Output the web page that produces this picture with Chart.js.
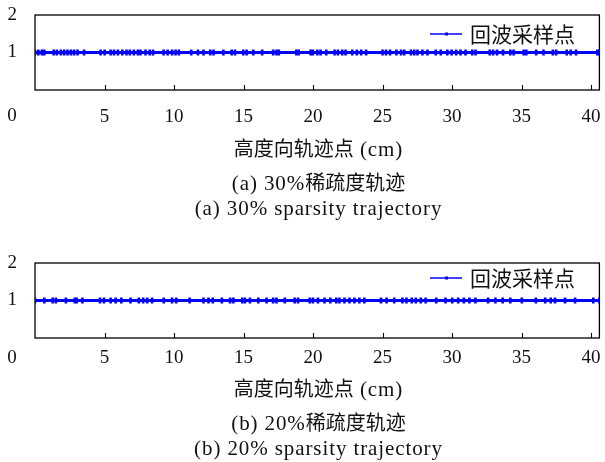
<!DOCTYPE html>
<html>
<head>
<meta charset="utf-8">
<script src="https://cdn.jsdelivr.net/npm/chart.js@4.4.1/dist/chart.umd.min.js"></script>
<style>
  html, body { margin: 0; padding: 0; background: #fff; }
  body { width: 605px; height: 462px; position: relative; overflow: hidden;
         font-family: "Liberation Serif", "Noto Sans CJK SC", serif; color: #111; }
  .panel { position: absolute; left: 0; width: 605px; height: 231px; }
  .txt { position: absolute; left: 35px; width: 567px; text-align: center;
         font-size: 21px; line-height: 24px; white-space: nowrap; letter-spacing: 0.9px; }
  .cjk { font-family: "Noto Sans CJK SC", sans-serif; font-size: 20px; letter-spacing: 0; }
</style>
</head>
<body>
<div class="panel" style="top:0"><canvas id="chartA"></canvas></div>
<div class="panel" style="top:231px"><canvas id="chartB"></canvas></div>

<div class="txt" style="top:136px"><span class="cjk">高度向轨迹点</span> (cm)</div>
<div class="txt" style="top:170px">(a) 30%<span class="cjk">稀疏度轨迹</span></div>
<div class="txt" style="top:196px">(a) 30% sparsity trajectory</div>

<div class="txt" style="top:376px"><span class="cjk">高度向轨迹点</span> (cm)</div>
<div class="txt" style="top:410px">(b) 20%<span class="cjk">稀疏度轨迹</span></div>
<div class="txt" style="top:436px">(b) 20% sparsity trajectory</div>

<script>
// Height-direction positions (cm) of the retained echo samples
const samples30 = [0, 0.24, 0.5, 0.67, 1.34, 1.57, 1.86, 2.1, 2.34, 2.58, 2.81, 3.06, 3.53,
  4.72, 5.01, 5.44, 5.68, 5.96, 6.28, 6.58, 6.82, 7.11, 7.4, 7.59, 7.95, 8.25, 8.49,
  9.25, 9.54, 9.86, 10.11, 10.35, 11.24, 11.72, 12.12, 12.6, 12.84, 13.55, 14.15, 14.39,
  14.98, 15.22, 15.7, 16.34, 17.13, 17.37, 17.54, 18.8, 18.97, 19.83, 19.99, 20.31, 20.54,
  20.95, 21.55, 21.79, 22.1, 22.34, 22.82, 23.15, 23.46, 23.82, 25.0, 25.25, 25.54, 26.0,
  26.33, 26.56, 27.04, 27.28, 27.51, 27.87, 28.23, 28.83, 29.19, 29.66, 29.97, 30.3, 30.61,
  30.97, 31.45, 31.69, 32.71, 32.95, 33.24, 33.67, 34.19, 34.43, 35.15, 35.34, 36.05, 36.58,
  37.25, 37.49, 38.25, 38.54, 38.92, 40.45, 40.6];

const samples20 = [0, 0.67, 1.27, 1.5, 2.22, 2.86, 3.0, 3.41, 4.67, 4.96, 5.44, 5.8, 6.21,
  6.87, 7.47, 7.78, 8.07, 8.42, 9.26, 9.86, 10.16, 11.12, 12.12, 12.48, 12.79, 13.44,
  14.03, 14.27, 14.91, 15.1, 15.46, 16.06, 16.66, 17.13, 17.37, 17.97, 18.68, 18.92,
  19.76, 19.99, 20.35, 20.83, 21.24, 21.67, 21.9, 22.26, 22.62, 22.98, 23.33, 23.69,
  24.89, 25.29, 25.84, 26.43, 26.72, 27.1, 27.39, 27.75, 28.1, 28.86, 29.53, 30.01,
  30.44, 30.85, 31.25, 31.68, 32.59, 33.12, 33.64, 34.19, 35.02, 36.03, 36.7, 37.1,
  37.41, 38.13, 38.85, 40.16, 40.6];

const echoLevel = 1;              // every sample sits on the unit level
const xTickValues = [5, 10, 15, 20, 25, 30, 35, 40];
const yTickValues = [1, 2];
const xRange = [0, 40.6];
const yRange = [0, 2];
const seriesLabel = '回波采样点';

const BLUE = '#0000ff';
const LATIN = '"Liberation Serif", "Noto Sans CJK SC", serif';
const CJK = '"Noto Sans CJK SC", "Liberation Serif", sans-serif';

// Frame, inward ticks, the "0" label below the frame and an in-plot legend
const framePlugin = {
  id: 'frame',
  beforeDatasetsDraw(chart) {
    const { ctx, chartArea: a, scales: { x } } = chart;
    ctx.save();
    ctx.strokeStyle = '#000';
    ctx.lineWidth = 1.3;
    ctx.strokeRect(a.left, a.top, a.right - a.left, a.bottom - a.top);
    ctx.lineWidth = 1.1;
    ctx.beginPath();
    xTickValues.forEach(v => {
      const px = Math.round(x.getPixelForValue(v)) + 0.5;
      ctx.moveTo(px, a.bottom);
      ctx.lineTo(px, a.bottom - 5);
    });
    ctx.stroke();
    ctx.restore();
  },
  afterDraw(chart, args, opts) {
    const { ctx, chartArea: a } = chart;
    ctx.save();
    ctx.fillStyle = '#111';
    ctx.font = '19px ' + LATIN;
    ctx.textAlign = 'center';
    ctx.textBaseline = 'middle';
    ctx.fillText('0', 12, a.bottom + opts.zeroOffset);
    // legend
    const ly = a.top + opts.legendOffset;
    const lx = 430;
    ctx.strokeStyle = BLUE;
    ctx.lineWidth = 1.5;
    ctx.beginPath();
    ctx.moveTo(lx, ly);
    ctx.lineTo(lx + 32, ly);
    ctx.stroke();
    ctx.fillStyle = BLUE;
    ctx.fillRect(lx + 15, ly - 1.5, 3, 3);
    ctx.fillStyle = '#111';
    ctx.font = '21px ' + CJK;
    ctx.textAlign = 'left';
    ctx.fillText(chart.data.datasets[0].label, lx + 40, ly);
    ctx.restore();
  }
};

function makeChart(id, xs, pad, opts) {
  return new Chart(document.getElementById(id), {
    type: 'scatter',
    data: {
      datasets: [{
        label: seriesLabel,
        data: xs.map(v => ({ x: v, y: echoLevel })),
        showLine: true,
        borderColor: BLUE,
        borderWidth: 3.2,
        pointStyle: 'line',
        rotation: 90,
        pointRadius: 3,
        pointBorderWidth: 2.6,
        pointBorderColor: BLUE,
        pointBackgroundColor: BLUE,
        pointHoverRadius: 3
      }]
    },
    options: {
      responsive: true,
      maintainAspectRatio: false,
      animation: false,
      events: [],
      layout: { padding: { left: 0, right: 3, top: pad.top, bottom: pad.bottom } },
      plugins: {
        legend: { display: false },
        tooltip: { enabled: false },
        frame: opts
      },
      scales: {
        x: {
          type: 'linear',
          min: xRange[0], max: xRange[1],
          afterBuildTicks: s => { s.ticks = xTickValues.map(v => ({ value: v })); },
          afterFit: s => { s.height = 40; s.paddingLeft = 0; s.paddingRight = 0; },
          grid: { display: false, drawTicks: false },
          border: { display: false },
          ticks: { color: '#111', font: { family: LATIN, size: 19 }, padding: pad.xPad, maxRotation: 0 }
        },
        y: {
          min: yRange[0], max: yRange[1],
          afterBuildTicks: s => { s.ticks = yTickValues.map(v => ({ value: v })); },
          afterFit: s => { s.width = 35; s.paddingTop = 0; s.paddingBottom = 0; },
          grid: { display: false, drawTicks: false },
          border: { display: false },
          ticks: { color: '#111', font: { family: LATIN, size: 19 }, padding: 18 }
        }
      }
    },
    plugins: [framePlugin]
  });
}

makeChart('chartA', samples30, { top: 15, bottom: 101, xPad: 16 }, { zeroOffset: 26, legendOffset: 19 });
makeChart('chartB', samples20, { top: 32, bottom: 84, xPad: 9 }, { zeroOffset: 20, legendOffset: 15 });
</script>
</body>
</html>
